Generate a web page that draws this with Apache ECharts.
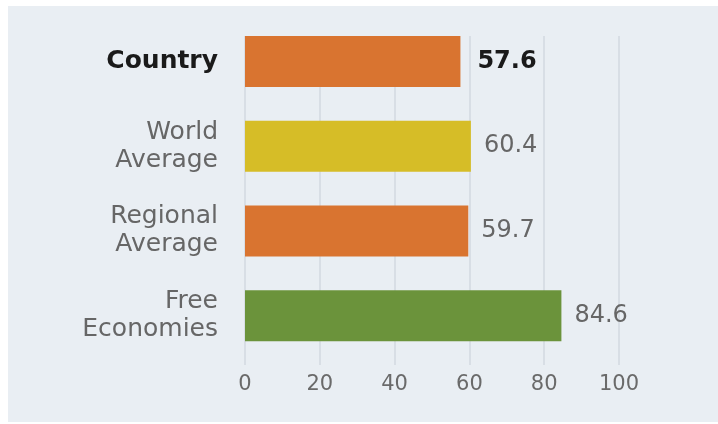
<!DOCTYPE html>
<html lang="en">
<head>
    <meta charset="UTF-8">
    <title>Economic Freedom Score</title>
    <script src="https://cdn.jsdelivr.net/npm/echarts@6/dist/echarts.min.js"></script>
    <style>
        html, body { margin: 0; padding: 0; background: #ffffff; }
        #panel { position: absolute; left: 8px; top: 6px; width: 710px; height: 416px; background: #e9eef3; }
        #chart { position: absolute; left: 0; top: 0; width: 718px; height: 424px; }
    </style>
</head>
<body>
    <div id="panel"></div>
    <div id="chart"></div>

    <script>
// data
const categories = ['Country', 'World\nAverage', 'Regional\nAverage', 'Free\nEconomies'];
const scores = [57.6, 60.4, 59.7, 84.6];
const barColors = ['#d97430', '#d6bd27', '#d97430', '#6b933b'];
const xTicks = [0, 20, 40, 60, 80, 100];

const chart = echarts.init(document.getElementById('chart'));
const font = 'DejaVu Sans';

const option = {
    backgroundColor: 'transparent',
    grid: [
        { left: 245, width: 374, top: 19, height: 339 },
        { left: 245, width: 374, top: 36, height: 329 }
    ],
    xAxis: [
        { gridIndex: 0, type: 'value', min: 0, max: 100, show: false },
        {
            gridIndex: 1, type: 'value', min: xTicks[0], max: xTicks[xTicks.length - 1], interval: 20,
            axisLine: { show: false },
            axisTick: { show: false },
            splitLine: { show: true, lineStyle: { color: '#d8dee5', width: 2 } },
            axisLabel: { color: '#6a6a6a', fontSize: 21, fontFamily: font, margin: 9 }
        }
    ],
    yAxis: [
        {
            gridIndex: 0, type: 'category', data: categories, inverse: true,
            axisLine: { show: false },
            axisTick: { show: false },
            axisLabel: {
                margin: 27,
                fontFamily: font,
                fontSize: 25,
                lineHeight: 28,
                color: '#666666',
                formatter: function (v, i) {
                    return i === 0 ? '{b|' + v + '}' : v;
                },
                rich: {
                    b: { fontWeight: 'bold', color: '#1a1a1a', fontSize: 25, fontFamily: font }
                }
            }
        },
        { gridIndex: 1, type: 'value', show: false }
    ],
    series: [{
        type: 'bar',
        xAxisIndex: 0,
        yAxisIndex: 0,
        barWidth: 51,
        data: scores.map((v, i) => ({
            value: v,
            itemStyle: { color: barColors[i] },
            label: i === 0 ? { fontWeight: 'bold', color: '#1a1a1a', distance: 17 } : {}
        })),
        label: {
            show: true,
            position: 'right',
            distance: 13,
            fontFamily: font,
            fontSize: 24,
            color: '#666666'
        }
    }]
};

chart.setOption(option);
    </script>
</body>
</html>
